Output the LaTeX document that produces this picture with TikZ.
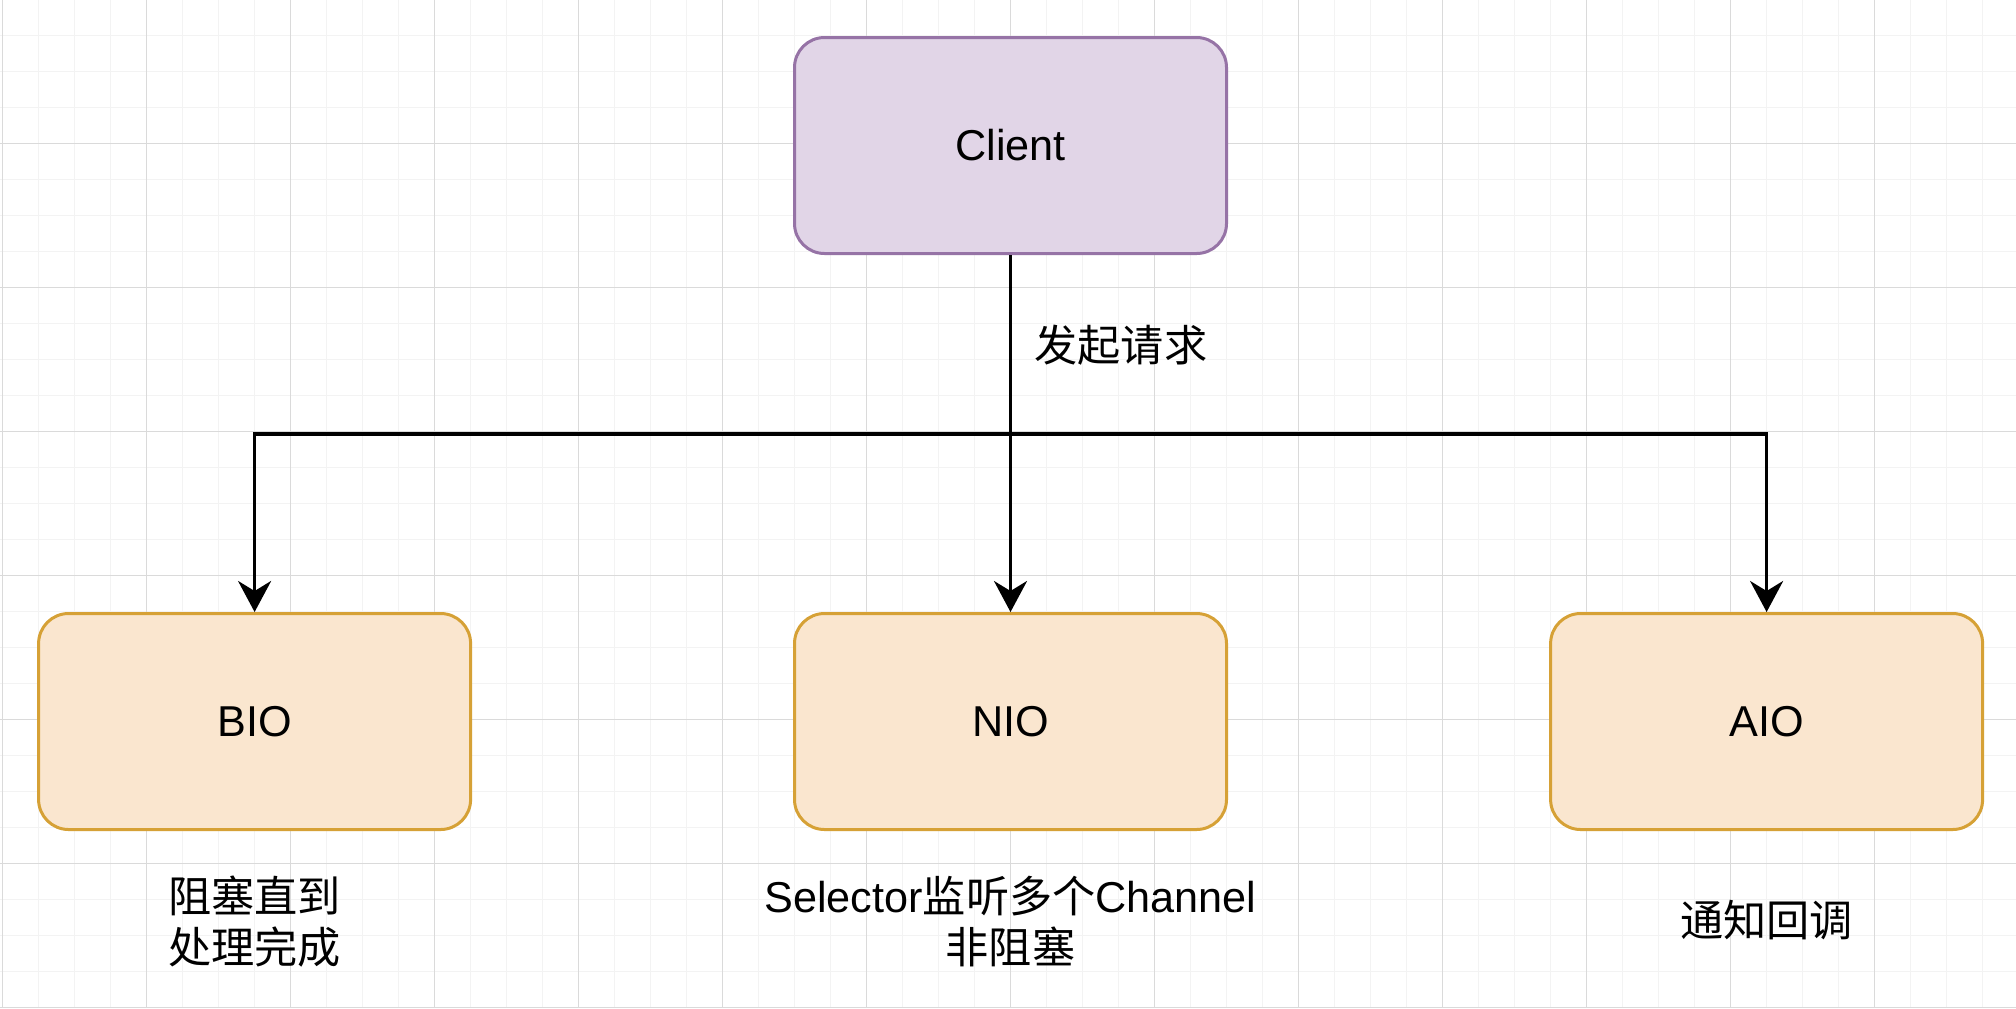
\documentclass[tikz,border=0pt]{standalone}
\usepackage{fontspec}
\setmainfont{Liberation Sans}
\newfontfamily\cjk{Noto Sans CJK SC}
\usetikzlibrary{arrows.meta}
\definecolor{gridminor}{HTML}{F3F3F3}
\definecolor{gridmajor}{HTML}{DADADA}
\definecolor{purpfill}{HTML}{E1D5E7}
\definecolor{purpline}{HTML}{9673A6}
\definecolor{orfill}{HTML}{FAE6CF}
\definecolor{orline}{HTML}{D6A136}
\tikzset{
  minorline/.style={draw=gridminor, line width=0.6pt},
  majorline/.style={draw=gridmajor, line width=0.6pt},
  boxbase/.style={rectangle, rounded corners=15pt, minimum width=216pt, minimum height=108pt, line width=1.5pt, inner sep=0pt, font=\fontsize{21.6}{25.8}\selectfont},
  clientbox/.style={boxbase, draw=purpline, fill=purpfill},
  iobox/.style={boxbase, draw=orline, fill=orfill},
  conn/.style={draw=black, line width=1.7pt, -{Stealth[length=15.5pt, width=16.5pt, inset=5pt]}},
  plainconn/.style={draw=black, line width=1.7pt},
  txt/.style={align=center, inner sep=0pt, font=\fontsize{21.6}{25.8}\selectfont}
}
\begin{document}
\begin{tikzpicture}[x=0.5pt, y=-0.5pt]
\useasboundingbox (0,0) rectangle (2016,1008);
\fill[white] (0,0) rectangle (2016,1008);
% grid
\foreach \i in {0,...,55} {
  \draw[minorline] ({2.6+36*\i},0) -- ({2.6+36*\i},1008);
}
\foreach \i in {0,...,28} {
  \draw[minorline] (0,{-0.7+36*\i}) -- (2016,{-0.7+36*\i});
}
\foreach \i in {0,...,13} {
  \draw[majorline] ({2.6+144*\i},0) -- ({2.6+144*\i},1008);
}
\foreach \i in {0,...,7} {
  \draw[majorline] (0,{-0.7+144*\i}) -- (2016,{-0.7+144*\i});
}
% nodes
\node[clientbox] (client) at (1010.5,145.5) {Client};
\node[iobox] (bio) at (254.6,721.5) {BIO};
\node[iobox] (nio) at (1010.5,721.5) {NIO};
\node[iobox] (aio) at (1766.6,721.5) {AIO};
\coordinate (j) at (1010.5,434);
% connectors
\draw[plainconn] (client.south) -- (j);
\draw[conn] (j) -| (bio.north);
\draw[conn] (j) -- (nio.north);
\draw[conn] (j) -| (aio.north);
\node[txt, anchor=west] (lbl) at (1034,345) {\cjk 发起请求};
% descriptions
\node[txt] (biotxt) at (254.6,921.5) {\cjk 阻塞直到\\\cjk 处理完成};
\node[txt] (niotxt) at (1010.5,921.5) {Selector{\cjk 监听多个}Channel\\\cjk 非阻塞};
\node[txt] (aiotxt) at (1766.6,920) {\cjk 通知回调};
\end{tikzpicture}
\end{document}
